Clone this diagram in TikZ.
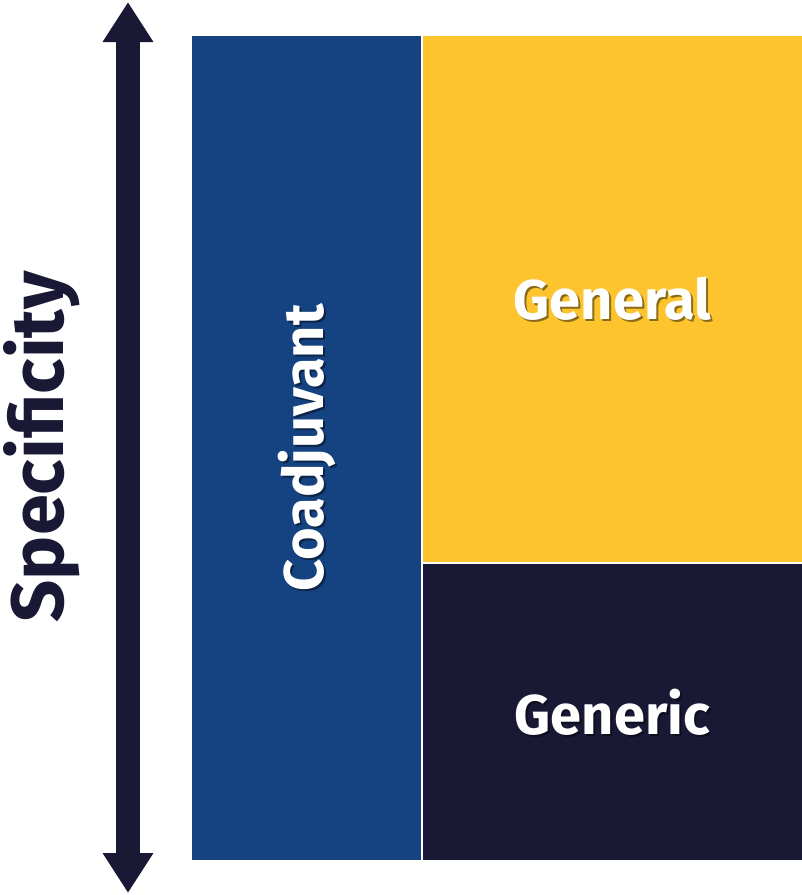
\documentclass[tikz,border=0pt]{standalone}
\usepackage{fontspec}
\newfontfamily\labelfont{Fira Sans}
\usetikzlibrary{arrows.meta}
\definecolor{coblue}{HTML}{154281}
\definecolor{genyellow}{HTML}{FDC42E}
\definecolor{gendark}{HTML}{191936}
\begin{document}
\begin{tikzpicture}[x=1pt, y=-1pt,
			block/.style = {draw=white, line width=2pt, inner sep=0pt, anchor=north west},
			labeltxt/.style = {text=white, font=\labelfont\bfseries\fontsize{56}{60}\selectfont, inner sep=0pt},
			shadowtxt/.style = {labeltxt, text=black, opacity=0.45}]
			\useasboundingbox (0,0) rectangle (802,895);
			
			% double arrow
			\coordinate (top) at (128,2);
			\coordinate (bot) at (128,893);
			\draw[gendark, line width=24pt, {Triangle[width=48pt,length=40pt]}-{Triangle[width=48pt,length=40pt]}] (top) -- (bot);
			\node[labeltxt, text=gendark, rotate=90, font=\labelfont\bfseries\fontsize{74}{80}\selectfont] (spec) at (42,447) {Specificity};
			
			% blocks
			\node[block, fill=coblue, minimum width=231, minimum height=826] (coad) at (190,34) {};
			\node[block, fill=genyellow, minimum width=381, minimum height=528] (genl) at (421,34) {};
			\node[block, fill=gendark, minimum width=381, minimum height=298] (genc) at (421,562) {};
			
			% labels with shadow
			\node[shadowtxt, rotate=90] at ([shift={(2pt,-2pt)}]coad.center) {Coadjuvant};
			\node[labeltxt, rotate=90] at (coad.center) {Coadjuvant};
			\node[shadowtxt] at ([shift={(2pt,-2pt)}]genl.center) {General};
			\node[labeltxt] at (genl.center) {General};
			\node[shadowtxt] at ([shift={(2pt,-2pt)}]genc.center) {Generic};
			\node[labeltxt] at (genc.center) {Generic};
			\end{tikzpicture}
\end{document}
